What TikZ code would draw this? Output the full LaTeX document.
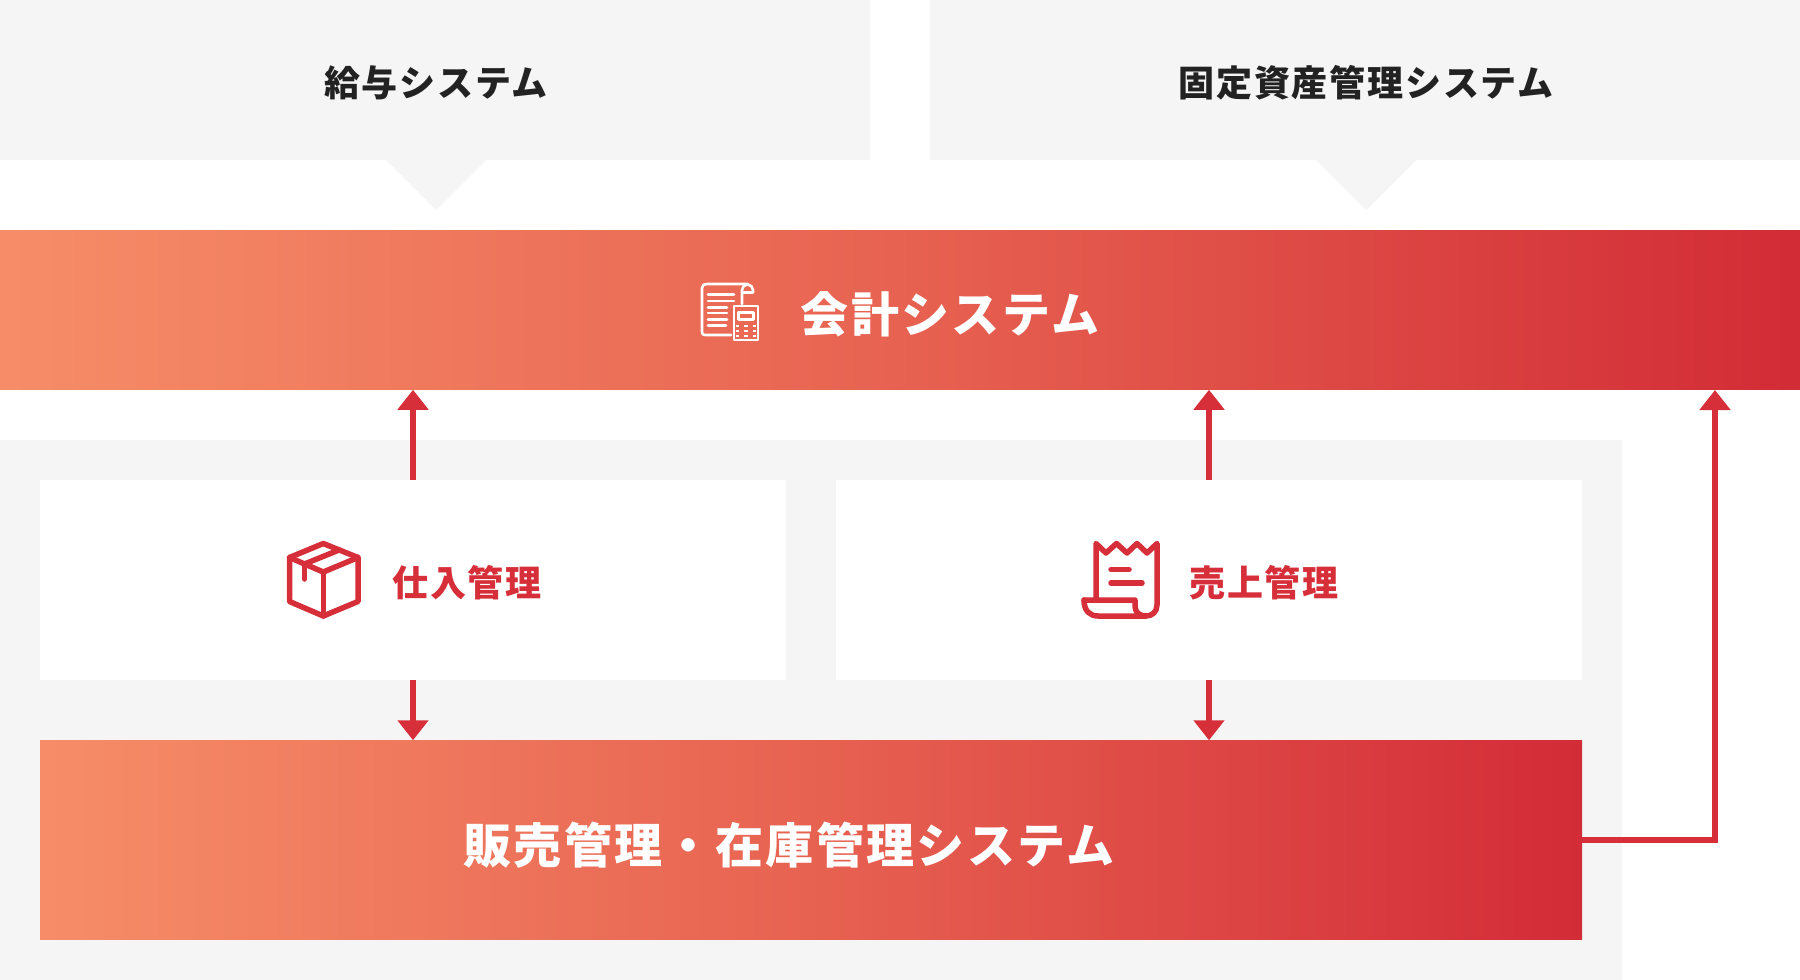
\documentclass[tikz,border=0pt]{standalone}
\usepackage{fontspec}
\setmainfont[LetterSpace=5]{Noto Sans CJK JP}
\usetikzlibrary{arrows.meta}
\definecolor{panelgray}{HTML}{F5F5F5}
\definecolor{arrowred}{HTML}{D62F39}
\definecolor{textdark}{HTML}{222222}
\definecolor{g0}{HTML}{F68D68}
\definecolor{g1}{HTML}{E86452}
\definecolor{g2}{HTML}{D22C36}
\definecolor{g3}{HTML}{D5303A}
\pgfdeclarehorizontalshading{bandtop}{100bp}{color(0bp)=(g0); color(25bp)=(g0); color(49bp)=(g1); color(75bp)=(g2); color(100bp)=(g2)}
\pgfdeclarehorizontalshading{bandlow}{100bp}{color(0bp)=(g0); color(25bp)=(g0); color(49bp)=(g1); color(73bp)=(g3); color(75bp)=(g2); color(100bp)=(g2)}
\tikzset{
  x=1pt,y=-1pt,
  plain/.style={inner sep=0pt,outer sep=0pt},
  topbox/.style={plain,fill=panelgray,minimum width=870pt,minimum height=160pt},
  whitebox/.style={plain,fill=white,minimum width=746pt,minimum height=200pt},
  toplabel/.style={plain,text=textdark,font=\fontsize{36}{40}\selectfont\bfseries},
  redlabel/.style={plain,text=arrowred,font=\fontsize{36}{40}\selectfont\bfseries},
  bandlabel/.style={plain,text=white,font=\fontsize{48}{52}\selectfont\bfseries},
  link/.style={draw=arrowred,line width=6.5pt,-{Triangle[length=20pt,width=30pt]}},
  iconred/.style={draw=arrowred,line width=5.5pt,line join=round,line cap=round},
  iconwhite/.style={draw=white,line width=2.6pt,line join=round,line cap=round},
}
\begin{document}
\begin{tikzpicture}
\useasboundingbox (0,0) rectangle (1800,980);
\fill[white] (0,0) rectangle (1800,980);
\fill[panelgray] (0,440) rectangle (1622,980);
\node[topbox] (pay) at (435,80) {};
\node[topbox] (asset) at (1365,80) {};
\fill[panelgray] (386,160) -- (436,210) -- (486,160) -- cycle;
\fill[panelgray] (1316,160) -- (1366,210) -- (1416,160) -- cycle;
\node[toplabel] (paytext) at (436,83) {給与システム};
\node[toplabel] (assettext) at (1366,83) {固定資産管理システム};
\node[plain,minimum width=1800pt,minimum height=159.5pt,shading=bandtop] (acct) at (900,310) {};
\node[bandlabel] (accttext) at (950,314) {会計システム};
\node[whitebox] (buy) at (413,580) {};
\node[whitebox] (sell) at (1209,580) {};
\node[redlabel] (buytext) at (467,583) {仕入管理};
\node[redlabel] (selltext) at (1264,583) {売上管理};
\node[plain,minimum width=1542pt,minimum height=199.5pt,shading=bandlow] (stock) at (811,840) {};
\node[bandlabel] (stocktext) at (789,845) {販売管理・在庫管理システム};
\coordinate (acctin) at (1715,390);
\draw[link] (buy.north) -- (buy.north |- acct.south);
\draw[link] (sell.north) -- (sell.north |- acct.south);
\draw[link] (buy.south) -- (buy.south |- stock.north);
\draw[link] (sell.south) -- (sell.south |- stock.north);
\draw[link,line join=miter] (stock.east) -| (acctin);
% box icon
\draw[iconred] (323.3,543.5) -- (358,557.5) -- (358,601.5) -- (323.3,616) -- (289.5,601.5) -- (289.5,557.5) -- cycle;
\draw[iconred] (289.5,557.5) -- (323.3,572) -- (358,557.5);
\draw[iconred] (323.3,572) -- (323.3,616);
\draw[iconred] (304.5,564) -- (304.5,579);
\draw[iconred] (304.5,564) -- (339,550);
% receipt icon
\draw[iconred] (1096,597) -- (1096,543.5) -- (1106,553) -- (1116.5,543.5) -- (1127,553) -- (1137,543.5) -- (1147,553) -- (1157,543.5) -- (1157,605) .. controls (1157,612) and (1152,616) .. (1146,616) .. controls (1139,616) and (1135,612) .. (1135,606) -- (1135,600) -- (1084,600);
\draw[iconred] (1084,600) .. controls (1084,611) and (1090,616) .. (1098,616) -- (1146,616);
\draw[iconred] (1111,569.5) -- (1129,569.5);
\draw[iconred] (1111,583) -- (1142,583);
% invoice and calculator icon
\draw[iconwhite] (731,335) -- (705,335) .. controls (703,335) and (702,334) .. (702,332) -- (702,288) .. controls (702,285) and (704,284) .. (707,284) -- (748,284);
\draw[iconwhite] (742,304) -- (742,290) arc[start angle=-180,end angle=0,radius=5.5] -- (753,292.5) -- (743,292.5);
\draw[iconwhite] (708,294.5) -- (734,294.5) (708,301) -- (734,301) (708,307.5) -- (727,307.5) (708,313) -- (727,313) (708,319.5) -- (727,319.5) (708,325.5) -- (726,325.5);
\draw[iconwhite] (734,306) rectangle (758,340);
\draw[iconwhite] (738.5,312.5) rectangle (753.5,319.5);
\foreach \px in {737.5,745.9,754.2}
  \foreach \py in {326,331,336}
    \draw[white,line width=2.2pt] (\px-1.7,\py) -- (\px+1.7,\py);
\end{tikzpicture}
\end{document}
